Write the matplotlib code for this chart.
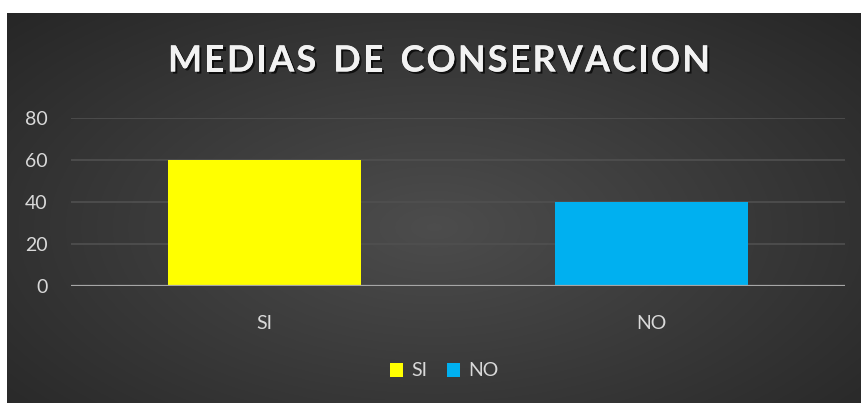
import numpy as np
import matplotlib
matplotlib.use("Agg")
from matplotlib import pyplot as plt
from matplotlib import patheffects as pe
from matplotlib.patches import Patch

categories = ["SI", "NO"]
values = [60, 40]
bar_colors = ["#FFFF00", "#00B0F0"]
yticks = [0, 20, 40, 60, 80]
title = "MEDIAS DE CONSERVACION"

plt.rcParams["font.family"] = ["Lato", "DejaVu Sans"]

W, H = 862, 403
fig = plt.figure(figsize=(W / 100, H / 100), dpi=100, facecolor="white")

# dark radial background
bg = fig.add_axes([7 / W, 0, 1 - 7 / W, 1 - 13 / H])
yy, xx = np.mgrid[0:1:300j, 0:1:600j]
r = np.sqrt(((xx - 0.5) / 0.75) ** 2 + ((yy - 0.55) / 0.85) ** 2)
shade = np.clip(0.30 - 0.16 * r, 0.14, 0.30)
bg.imshow(np.dstack([shade] * 3), aspect="auto", extent=[0, 1, 0, 1])
bg.set_axis_off()

ax = fig.add_axes([71 / W, 1 - 286 / H, 774 / W, 168 / H])
ax.patch.set_alpha(0)
x = np.arange(len(categories))
ax.bar(x, values, width=0.5, color=bar_colors, zorder=3)
ax.set_xlim(-0.5, len(categories) - 0.5)
ax.set_ylim(0, 80)
ax.set_yticks(yticks)
ax.set_xticks(x, categories)
ax.grid(axis="y", color="#505050", linewidth=1.2, zorder=0)
ax.axhline(0, color="#a6a6a6", linewidth=1.6, zorder=4)
for s in ax.spines.values():
    s.set_visible(False)
ax.tick_params(axis="both", length=0, colors="#d9d9d9", labelsize=14)
ax.tick_params(axis="y", pad=17)
ax.tick_params(axis="x", pad=21)

# title with letter spacing: place characters one by one
renderer = fig.canvas.get_renderer()
tkw = dict(fontsize=26, fontweight="bold", color="#f2f2f2", va="center", ha="left",
           path_effects=[pe.withSimplePatchShadow(offset=(1.5, -1.5), shadow_rgbFace="black", alpha=0.7),
                         pe.Normal()])
widths = []
for ch in title:
    t = fig.text(0, 0, ch if ch != " " else "I", **tkw)
    w = t.get_window_extent(renderer).width
    if ch == " ":
        w *= 1.2
    widths.append(w)
    t.remove()
left_px, right_px = 168, 710
spacing = (right_px - left_px - sum(widths)) / (len(title) - 1)
xpos = left_px
for ch, w in zip(title, widths):
    if ch != " ":
        fig.text(xpos / W, 1 - 61 / H, ch, **tkw)
    xpos += w + spacing

handles = [Patch(facecolor=c, edgecolor="none") for c in bar_colors]
fig.legend(handles, categories, loc="center", bbox_to_anchor=(444 / W, 1 - 371 / H),
           ncol=2, frameon=False, fontsize=14, labelcolor="#d9d9d9",
           handlelength=0.7, handleheight=0.7, handletextpad=0.4, columnspacing=1.0)

fig.savefig("out.png", dpi=100, facecolor="white")
